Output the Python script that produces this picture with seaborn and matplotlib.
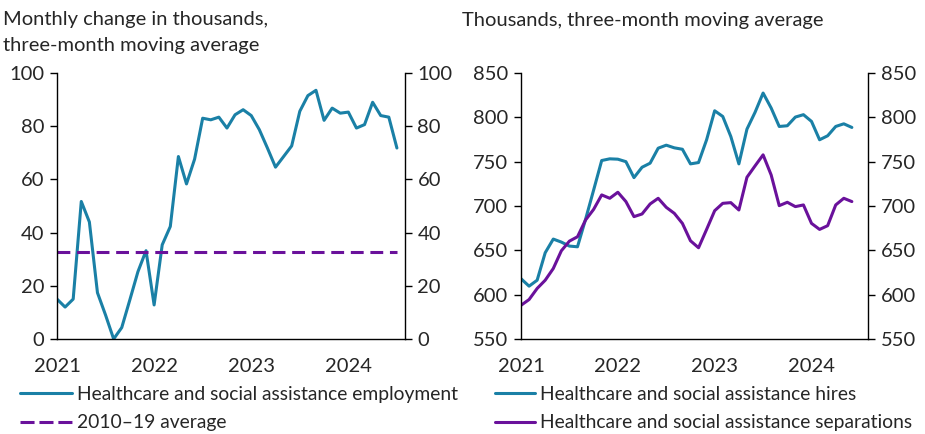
import pandas as pd
import seaborn as sns
import matplotlib.pyplot as plt
from matplotlib.lines import Line2D

sns.set_style('white')
plt.rcParams['font.family'] = ['Lato', 'DejaVu Sans']

# Left panel: monthly change in healthcare employment (thousands, 3-mo avg)
employment = [15, 12, 15, 51.7, 44, 17.4, 9, 0, 4.3, 14.7, 25.3, 33.2,
              12.8, 35.4, 42.3, 68.6, 58.3, 67.6, 83, 82.4, 83.4, 79.3, 84.3, 86.2,
              84, 78.7, 71.8, 64.6, 68.6, 72.6, 85.6, 91.5, 93.5, 82.2, 86.8, 84.9,
              85.3, 79.3, 80.6, 89, 84, 83.4, 71.8]
avg_2010_19 = 32.8

# Right panel: hires and separations (thousands, 3-mo avg)
hires = [618, 609.6, 616.3, 647.3, 662.7, 659.3, 654.8, 654, 685, 718, 751.3, 753.2,
         752.8, 750, 732, 743.7, 748.3, 765.2, 768.6, 765.6, 764, 747.5, 749, 774.7,
         807.4, 801, 778.4, 747.5, 786.7, 805.6, 827.4, 810.5, 789.7, 790.5, 800.3, 803,
         795.4, 774.7, 779.2, 789.7, 792.7, 788.6]
separations = [588, 594.5, 607, 616.3, 629.5, 649.5, 660.4, 665.3, 684.2, 696.2, 712.5, 708.7,
               715.5, 705, 688, 691, 702.3, 708.7, 698.5, 691.7, 680.4, 660.8, 652.9, 673.6,
               694.7, 703, 703.8, 695.5, 732.4, 745.2, 757.7, 735, 700.4, 704.2, 699.3, 701.2,
               680.4, 673.6, 677.8, 701.2, 708.7, 705]

years = ['2021', '2022', '2023', '2024']

teal = '#1a80a6'
purple = '#6a119b'

df_emp = pd.DataFrame({'month': range(len(employment)), 'value': employment})
df_jolts = pd.DataFrame({'month': range(len(hires)), 'hires': hires, 'separations': separations})

fig = plt.figure(figsize=(9.25, 4.34), dpi=100)
ax1 = fig.add_axes([57 / 925, 1 - 339 / 434, 348 / 925, 266 / 434])
ax2 = fig.add_axes([521 / 925, 1 - 339 / 434, 347 / 925, 266 / 434])

sns.lineplot(data=df_emp, x='month', y='value', ax=ax1, color=teal, linewidth=2.2)
ax1.axhline(avg_2010_19, color=purple, linewidth=2.2, dashes=(4.2, 2.2), xmin=0, xmax=42 / 43)

sns.lineplot(data=df_jolts, x='month', y='hires', ax=ax2, color=teal, linewidth=2.2)
sns.lineplot(data=df_jolts, x='month', y='separations', ax=ax2, color=purple, linewidth=2.2)

fs = 14.5
for ax, lo, hi, step in [(ax1, 0, 100, 20), (ax2, 550, 850, 50)]:
    ax.set_xlim(0, 43)
    ax.set_ylim(lo, hi)
    ax.set_xlabel('')
    ax.set_ylabel('')
    ax.set_xticks([0, 12, 24, 36])
    ax.set_xticklabels(years, fontsize=fs)
    ax.set_yticks(range(lo, hi + 1, step))
    ax.tick_params(axis='x', direction='inout', length=10, width=1, pad=9, color='black')
    ax.tick_params(axis='y', direction='out', length=5, width=1, labelsize=fs, pad=4,
                   left=True, right=True, labelleft=True, labelright=True, color='black')
    for s in ['left', 'right', 'bottom']:
        ax.spines[s].set_visible(True)
        ax.spines[s].set_color('black')
        ax.spines[s].set_linewidth(1)
    ax.spines['top'].set_visible(False)

fig.text(3 / 925, 1 - 11 / 434, 'Monthly change in thousands,\nthree-month moving average',
         fontsize=fs, va='top', ha='left', linespacing=1.65)
fig.text(462 / 925, 1 - 12 / 434, 'Thousands, three-month moving average',
         fontsize=fs, va='top', ha='left')

lfs = 13.9
h1 = [Line2D([], [], color=teal, lw=2.2),
      Line2D([], [], color=purple, lw=2.2, dashes=(4.6, 1.6))]
fig.legend(h1, ['Healthcare and social assistance employment', '2010\u201319 average'],
           loc='upper left', bbox_to_anchor=(12 / 925, 1 - 378 / 434), frameon=False,
           fontsize=lfs, handlelength=2.7, handletextpad=0.25, labelspacing=0.6, borderaxespad=0)
h2 = [Line2D([], [], color=teal, lw=2.2), Line2D([], [], color=purple, lw=2.2)]
fig.legend(h2, ['Healthcare and social assistance hires', 'Healthcare and social assistance separations'],
           loc='upper left', bbox_to_anchor=(487 / 925, 1 - 378 / 434), frameon=False,
           fontsize=lfs, handlelength=2.07, handletextpad=0.25, labelspacing=0.6, borderaxespad=0)

fig.savefig('out.png', dpi=100)
